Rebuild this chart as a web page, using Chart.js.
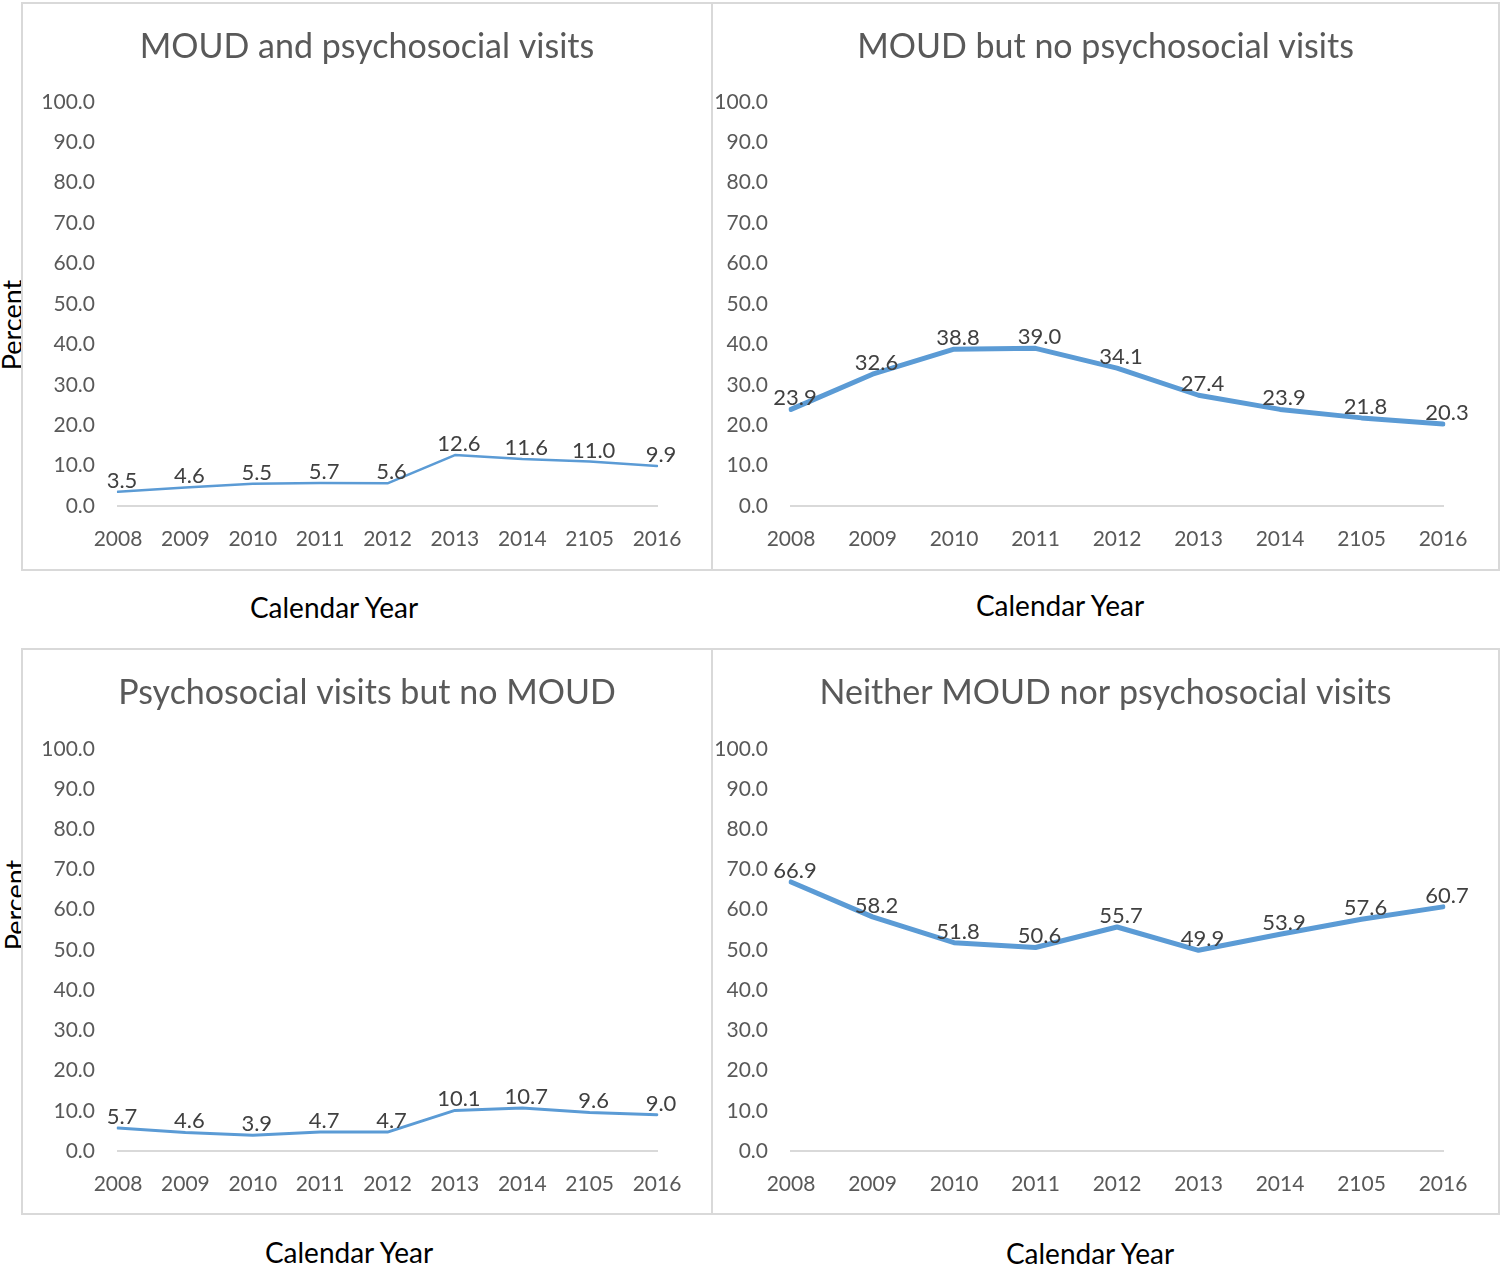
<!DOCTYPE html>
<html>
<head>
<meta charset="utf-8">
<script src="https://cdn.jsdelivr.net/npm/chart.js@4.4.1/dist/chart.umd.min.js"></script>
<style>
  html, body { margin: 0; padding: 0; background: #fff; }
  body { width: 1500px; height: 1265px; position: relative; overflow: hidden; font-family: Lato, sans-serif; }
  .box { position: absolute; box-sizing: border-box; border: 2px solid #d9d9d9; background: #fff; z-index: 2; }
  .box canvas { display: block; }
  .xtitle { position: absolute; transform: translate(-50%, -50%); font-size: 28px; color: #000; white-space: nowrap; }
  .ytitle { position: absolute; transform: translate(-50%, -50%) rotate(-90deg); font-size: 27px; color: #000; white-space: nowrap; z-index: 1; }
</style>
</head>
<body>
<div class="box" style="left:21px; top:2px; width:692px; height:569px;"><canvas id="c1" width="688" height="565"></canvas></div>
<div class="box" style="left:711px; top:2px; width:789px; height:569px;"><canvas id="c2" width="785" height="565"></canvas></div>
<div class="box" style="left:21px; top:648px; width:692px; height:567px;"><canvas id="c3" width="688" height="563"></canvas></div>
<div class="box" style="left:711px; top:648px; width:789px; height:567px;"><canvas id="c4" width="785" height="563"></canvas></div>

<div class="ytitle" style="left:11px; top:325px;">Percent</div>
<div class="ytitle" style="left:14px; top:905px;">Percent</div>
<div class="xtitle" style="left:334px; top:607px;">Calendar Year</div>
<div class="xtitle" style="left:1060px; top:605px;">Calendar Year</div>
<div class="xtitle" style="left:349px; top:1252px;">Calendar Year</div>
<div class="xtitle" style="left:1090px; top:1253px;">Calendar Year</div>

<script>
// data
const years = ["2008", "2009", "2010", "2011", "2012", "2013", "2014", "2105", "2016"];
const moudAndPsych = [3.5, 4.6, 5.5, 5.7, 5.6, 12.6, 11.6, 11.0, 9.9];
const moudNoPsych = [23.9, 32.6, 38.8, 39.0, 34.1, 27.4, 23.9, 21.8, 20.3];
const psychNoMoud = [5.7, 4.6, 3.9, 4.7, 4.7, 10.1, 10.7, 9.6, 9.0];
const neither = [66.9, 58.2, 51.8, 50.6, 55.7, 49.9, 53.9, 57.6, 60.7];
const titles = [
  "MOUD and psychosocial visits",
  "MOUD but no psychosocial visits",
  "Psychosocial visits but no MOUD",
  "Neither MOUD nor psychosocial visits"
];
const yMin = 0, yMax = 100, yStep = 10;

const blue = "#5B9BD5";
const grey = "#595959";

// value labels just above each point
const pointLabels = {
  id: "pointLabels",
  afterDatasetsDraw(chart) {
    const ctx = chart.ctx;
    const meta = chart.getDatasetMeta(0);
    const vals = chart.data.datasets[0].data;
    ctx.save();
    ctx.font = "22px Lato";
    ctx.fillStyle = "#404040";
    ctx.textAlign = "center";
    ctx.textBaseline = "alphabetic";
    meta.data.forEach((pt, i) => {
      ctx.fillText(vals[i].toFixed(1), pt.x + 4, pt.y - 4);
    });
    ctx.restore();
  }
};

function makeChart(id, title, values, lineW, yWidth, rightPad, titlePadBottom, xHeight) {
  const ctx = document.getElementById(id).getContext("2d");
  return new Chart(ctx, {
    type: "line",
    data: {
      labels: years,
      datasets: [{
        data: values,
        borderColor: blue,
        borderWidth: lineW,
        fill: false,
        tension: 0,
        pointRadius: 0,
        borderCapStyle: "round",
        borderJoinStyle: "round"
      }]
    },
    options: {
      responsive: false,
      devicePixelRatio: 1,
      animation: false,
      layout: { padding: 0 },
      plugins: {
        legend: { display: false },
        tooltip: { enabled: false },
        title: {
          display: true,
          text: title,
          color: grey,
          font: { family: "Lato", size: 34, weight: "normal", lineHeight: 1.2 },
          padding: { top: 23, bottom: titlePadBottom }
        }
      },
      scales: {
        x: {
          grid: { display: false, drawTicks: false },
          border: { display: true, color: "#d9d9d9", width: 2 },
          ticks: { color: grey, font: { family: "Lato", size: 21 }, padding: 21, maxRotation: 0, autoSkip: false },
          afterFit: s => { s.height = xHeight; }
        },
        y: {
          min: yMin,
          max: yMax,
          grid: { display: false, drawTicks: false },
          border: { display: false },
          ticks: {
            stepSize: yStep,
            color: grey,
            font: { family: "Lato", size: 21 },
            padding: 23,
            callback: v => v.toFixed(1)
          },
          afterFit: s => { s.width = yWidth; }
        },
        // empty right-hand axis only reserves the blank margin right of the plot
        yRight: {
          position: "right",
          grid: { display: false, drawTicks: false },
          border: { display: false },
          ticks: { display: false },
          afterFit: s => { s.width = rightPad; }
        }
      }
    },
    plugins: [pointLabels]
  });
}

makeChart("c1", titles[0], moudAndPsych, 2.5, 95, 54, 34, 63);
makeChart("c2", titles[1], moudNoPsych, 5, 78, 55, 34, 63);
makeChart("c3", titles[2], psychNoMoud, 3, 95, 54, 35, 62);
makeChart("c4", titles[3], neither, 5, 78, 55, 35, 62);
</script>
</body>
</html>
